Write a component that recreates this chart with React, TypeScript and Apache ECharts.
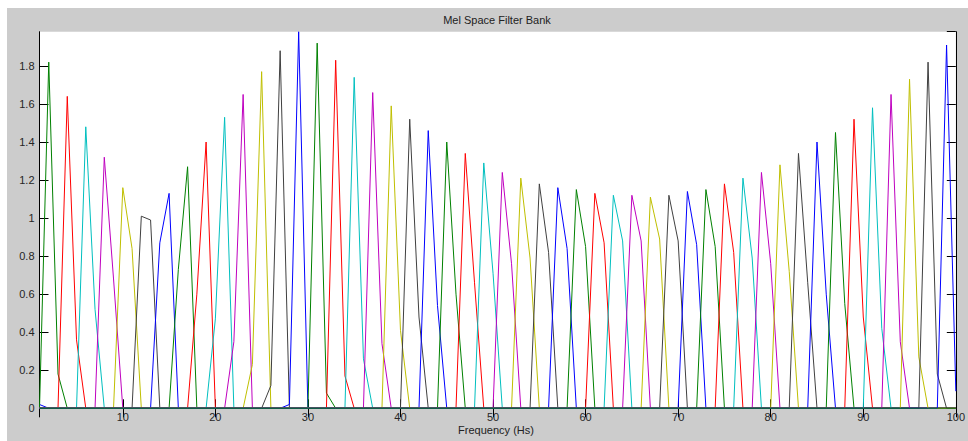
import React, { useEffect, useRef } from "react";
import * as echarts from "echarts";

const X_MIN = 1;
const X_MAX = 100;
const Y_MAX = 1.98;

const titleText = "Mel Space Filter Bank";
const xLabelText = "Frequency (Hs)";

// MATLAB (pre-2014) colour order: b g r c m y k
const colorOrder = ["#0000FF", "#008000", "#FF0000", "#00BFBF", "#BF00BF", "#BFBF00", "#404040"];

// Each filter is non-zero on two neighbouring bins: lowBin and lowBin + 1
const filterLowBin = [
  0, 2, 4, 6, 8, 10, 12,
  14, 16, 18, 20, 22, 24, 26, 28,
  31, 33, 35, 37, 39, 41, 43, 45, 47, 49, 51, 53, 55, 57, 59,
  61, 63, 65, 67, 69, 71, 73, 75, 77, 79, 81, 83, 85, 87, 89,
  91, 93, 95, 97, 99,
  101,
];
const filterLowValue = [
  1.98, 1.82, 1.64, 1.48, 1.32, 1.16, 1.01,
  0.87, 0.73, 0.6, 0.47, 0.35, 0.23, 0.12, 0.02,
  1.92, 1.83, 1.74, 1.66, 1.59, 1.52, 1.46, 1.4, 1.34, 1.29, 1.24, 1.21, 1.18, 1.16, 1.15,
  1.13, 1.12, 1.12, 1.11, 1.12, 1.14, 1.15, 1.18, 1.21, 1.24, 1.28, 1.34, 1.4, 1.45, 1.52,
  1.58, 1.65, 1.73, 1.82, 1.91,
  0,
];
const filterHighValue = [
  0.02, 0.18, 0.36, 0.52, 0.68, 0.84, 0.99,
  1.13, 1.27, 1.4, 1.53, 1.65, 1.77, 1.88, 1.98,
  0.08, 0.17, 0.26, 0.34, 0.41, 0.48, 0.54, 0.6, 0.66, 0.71, 0.76, 0.79, 0.82, 0.84, 0.85,
  0.87, 0.88, 0.88, 0.89, 0.88, 0.86, 0.85, 0.82, 0.79, 0.76, 0.72, 0.66, 0.6, 0.55, 0.48,
  0.42, 0.35, 0.27, 0.18, 0.09,
  0,
];

const FONT = '"Liberation Sans", Arial, sans-serif';

export default function App() {
  const ref = useRef<HTMLDivElement>(null);

  useEffect(() => {
    if (!ref.current) return;
    const chart = echarts.init(ref.current, undefined, { renderer: "svg" });

    const series = filterLowBin.map((lb, i) => {
      const data: number[][] = [];
      for (let x = X_MIN; x <= X_MAX; x++) {
        let v = 0;
        if (x === lb) v = filterLowValue[i];
        else if (x === lb + 1) v = filterHighValue[i];
        data.push([x, v]);
      }
      return {
        type: "line",
        xAxisIndex: 0,
        yAxisIndex: 0,
        data,
        symbol: "none",
        silent: true,
        lineStyle: { color: colorOrder[i % colorOrder.length], width: 1 },
        itemStyle: { color: colorOrder[i % colorOrder.length] },
      };
    });

    const axisCommon = {
      axisLine: { show: true, lineStyle: { color: "#000", width: 1 } },
      axisTick: { show: true, inside: true, length: 9, lineStyle: { color: "#000", width: 1 } },
      splitLine: { show: false },
    };

    chart.setOption({
      animation: false,
      backgroundColor: "#CCCCCC",
      textStyle: { fontFamily: FONT },
      grid: {
        left: 32.5,
        top: 23.7,
        width: 916.5,
        height: 376.6,
        show: true,
        backgroundColor: "#FFFFFF",
        borderWidth: 0,
      },
      xAxis: [
        {
          type: "value",
          position: "bottom",
          min: X_MIN,
          max: X_MAX,
          splitNumber: 10,
          ...axisCommon,
          axisLabel: {
            show: true,
            showMinLabel: false,
            margin: 3,
            color: "#262626",
            fontSize: 11,
            fontFamily: FONT,
          },
        },
        {
          type: "value",
          position: "top",
          min: X_MIN,
          max: X_MAX,
          splitNumber: 10,
          ...axisCommon,
          axisLabel: { show: false },
        },
      ],
      yAxis: [
        {
          type: "value",
          position: "left",
          min: 0,
          max: Y_MAX,
          interval: 0.2,
          ...axisCommon,
          axisLabel: {
            show: true,
            showMaxLabel: false,
            margin: 5,
            color: "#262626",
            fontSize: 11,
            fontFamily: FONT,
          },
        },
        {
          type: "value",
          position: "right",
          min: 0,
          max: Y_MAX,
          interval: 0.2,
          ...axisCommon,
          axisLabel: { show: false },
        },
      ],
      graphic: [
        {
          type: "text",
          x: 490,
          y: 12,
          style: {
            text: titleText,
            fill: "#222",
            font: `11px ${FONT}`,
            align: "center",
            verticalAlign: "middle",
          },
        },
        {
          type: "text",
          x: 489,
          y: 422,
          style: {
            text: xLabelText,
            fill: "#222",
            font: `11px ${FONT}`,
            align: "center",
            verticalAlign: "middle",
          },
        },
      ],
      series,
    });

    return () => {
      chart.dispose();
    };
  }, []);

  return (
    <div
      ref={ref}
      style={{ position: "fixed", left: 7, top: 8, width: 961, height: 433 }}
    />
  );
}
